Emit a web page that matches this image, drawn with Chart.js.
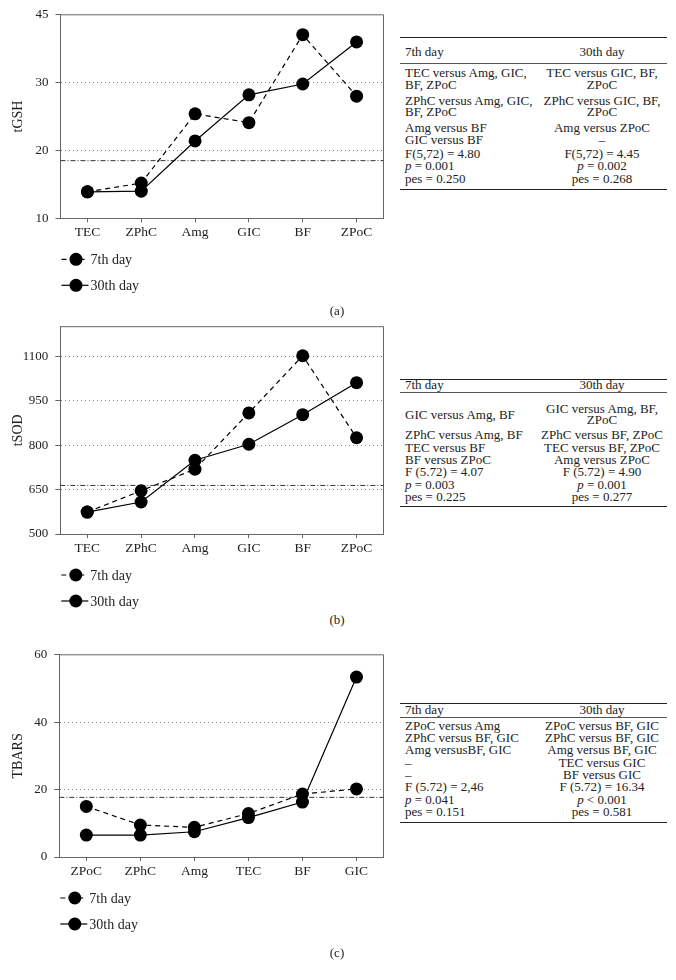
<!DOCTYPE html>
<html>
<head>
<meta charset="utf-8">
<script src="https://cdn.jsdelivr.net/npm/chart.js@4.4.1/dist/chart.umd.min.js"></script>
<style>
  body { margin: 0; background: #fff; width: 676px; height: 980px; position: relative; overflow: hidden;
         font-family: "Liberation Serif", "Times New Roman", serif; color: #222; }
  canvas { position: absolute; left: 0; }
  .cap { position: absolute; width: 40px; left: 317px; text-align: center; font-size: 13px; line-height: 14px; }
  .ln { position: absolute; left: 400px; width: 267px; height: 14px; line-height: 14px; font-size: 13px; white-space: nowrap; }
  .ln .a { position: absolute; left: 5px; }
  .ln .b { position: absolute; left: 137px; width: 130px; text-align: center; }
  .rule { position: absolute; left: 400px; width: 267px; height: 1.4px; background: #222; }
  .rule.thin { height: 1px; background: #555; }
</style>
</head>
<body>
<canvas id="chartA" width="390" height="300" style="top:0px"></canvas>
<canvas id="chartB" width="390" height="300" style="top:310px"></canvas>
<canvas id="chartC" width="390" height="310" style="top:640px"></canvas>

<div class="cap" style="top:304px">(a)</div>
<div class="cap" style="top:613px">(b)</div>
<div class="cap" style="top:946px">(c)</div>

<!-- table (a) -->
<div class="rule" style="top:37px"></div>
<div class="ln" style="top:45px"><span class="a">7th day</span><span class="b">30th day</span></div>
<div class="rule thin" style="top:63px"></div>
<div class="ln" style="top:66px"><span class="a">TEC versus Amg, GIC,</span><span class="b">TEC versus GIC, BF,</span></div>
<div class="ln" style="top:78px"><span class="a">BF, ZPoC</span><span class="b">ZPoC</span></div>
<div class="ln" style="top:94px"><span class="a">ZPhC versus Amg, GIC,</span><span class="b">ZPhC versus GIC, BF,</span></div>
<div class="ln" style="top:105px"><span class="a">BF, ZPoC</span><span class="b">ZPoC</span></div>
<div class="ln" style="top:121px"><span class="a">Amg versus BF</span><span class="b">Amg versus ZPoC</span></div>
<div class="ln" style="top:133px"><span class="a">GIC versus BF</span><span class="b">–</span></div>
<div class="ln" style="top:147px"><span class="a">F(5,72) = 4.80</span><span class="b">F(5,72) = 4.45</span></div>
<div class="ln" style="top:159px"><span class="a"><i>p</i> = 0.001</span><span class="b"><i>p</i> = 0.002</span></div>
<div class="ln" style="top:172px"><span class="a">pes = 0.250</span><span class="b">pes = 0.268</span></div>
<div class="rule" style="top:189px"></div>

<!-- table (b) -->
<div class="rule" style="top:379px"></div>
<div class="ln" style="top:378px"><span class="a">7th day</span><span class="b">30th day</span></div>
<div class="rule thin" style="top:392px"></div>
<div class="ln" style="top:402px"><span class="b">GIC versus Amg, BF,</span></div>
<div class="ln" style="top:408px"><span class="a">GIC versus Amg, BF</span></div>
<div class="ln" style="top:413px"><span class="b">ZPoC</span></div>
<div class="ln" style="top:428px"><span class="a">ZPhC versus Amg, BF</span><span class="b">ZPhC versus BF, ZPoC</span></div>
<div class="ln" style="top:441px"><span class="a">TEC versus BF</span><span class="b">TEC versus BF, ZPoC</span></div>
<div class="ln" style="top:453px"><span class="a">BF versus ZPoC</span><span class="b">Amg versus ZPoC</span></div>
<div class="ln" style="top:465px"><span class="a">F (5.72) = 4.07</span><span class="b">F (5.72) = 4.90</span></div>
<div class="ln" style="top:478px"><span class="a"><i>p</i> = 0.003</span><span class="b"><i>p</i> = 0.001</span></div>
<div class="ln" style="top:490px"><span class="a">pes = 0.225</span><span class="b">pes = 0.277</span></div>
<div class="rule" style="top:506px"></div>

<!-- table (c) -->
<div class="rule" style="top:703px"></div>
<div class="ln" style="top:703px"><span class="a">7th day</span><span class="b">30th day</span></div>
<div class="rule thin" style="top:717px"></div>
<div class="ln" style="top:719px"><span class="a">ZPoC versus Amg</span><span class="b">ZPoC versus BF, GIC</span></div>
<div class="ln" style="top:731px"><span class="a">ZPhC versus BF, GIC</span><span class="b">ZPhC versus BF, GIC</span></div>
<div class="ln" style="top:743px"><span class="a">Amg versusBF, GIC</span><span class="b">Amg versus BF, GIC</span></div>
<div class="ln" style="top:756px"><span class="a">–</span><span class="b">TEC versus GIC</span></div>
<div class="ln" style="top:768px"><span class="a">–</span><span class="b">BF versus GIC</span></div>
<div class="ln" style="top:780px"><span class="a">F (5.72) = 2,46</span><span class="b">F (5.72) = 16.34</span></div>
<div class="ln" style="top:793px"><span class="a"><i>p</i> = 0.041</span><span class="b"><i>p</i> &lt; 0.001</span></div>
<div class="ln" style="top:805px"><span class="a">pes = 0.151</span><span class="b">pes = 0.581</span></div>
<div class="rule" style="top:822px"></div>

<script>
// (a) tGSH
const groupsA = ["TEC", "ZPhC", "Amg", "GIC", "BF", "ZPoC"];
const tgsh7 = [13.9, 15.2, 25.4, 24.1, 40.6, 28.0];
const tgsh30 = [13.9, 14.0, 21.4, 28.2, 29.8, 39.0];
const tgshTicks = [10, 20, 30, 45];
const tgshRef = 18.5;

// (b) tSOD
const groupsB = ["TEC", "ZPhC", "Amg", "GIC", "BF", "ZPoC"];
const tsod7 = [574, 646, 719, 909, 1102, 825];
const tsod30 = [574, 608, 749, 803, 903, 1011];
const tsodTicks = [500, 650, 800, 950, 1100];
const tsodRef = 664;

// (c) TBARS
const groupsC = ["ZPoC", "ZPhC", "Amg", "TEC", "BF", "GIC"];
const tbars7 = [15.0, 9.5, 8.8, 12.9, 18.7, 20.2];
const tbars30 = [6.5, 6.5, 7.5, 11.7, 16.3, 53.4];
const tbarsTicks = [0, 20, 40, 60];
const tbarsRef = 17.7;

const serif = '"Liberation Serif", "Times New Roman", serif';

// the tGSH axis puts its ticks at equal distances, whatever their values
function stepDecimal(stops, v) {
  const n = stops.length - 1;
  for (let i = 0; i < n; i++) {
    if (v <= stops[i + 1] || i === n - 1) {
      return (i + (v - stops[i]) / (stops[i + 1] - stops[i])) / n;
    }
  }
}

class StepScale extends Chart.LinearScale {
  getPixelForValue(value) {
    if (value === null || value === undefined || isNaN(value)) return NaN;
    return this.getPixelForDecimal(stepDecimal(this.options.stops, value));
  }
  getValueForPixel(pixel) {
    const stops = this.options.stops;
    const n = stops.length - 1;
    const d = this.getDecimalForPixel(pixel) * n;
    const i = Math.max(0, Math.min(n - 1, Math.floor(d)));
    return stops[i] + (d - i) * (stops[i + 1] - stops[i]);
  }
}
StepScale.id = "stepped";
Chart.register(StepScale);

// top and right sides of the box
const frame = {
  id: "frame",
  beforeDatasetsDraw(chart) {
    const { ctx, chartArea: a } = chart;
    ctx.save();
    ctx.strokeStyle = "#666";
    ctx.lineWidth = 1;
    ctx.beginPath();
    ctx.moveTo(a.left, a.top);
    ctx.lineTo(a.right, a.top);
    ctx.lineTo(a.right, a.bottom);
    ctx.stroke();
    ctx.restore();
  }
};

// dash-dot reference line
const refLine = {
  id: "refLine",
  beforeDatasetsDraw(chart, args, opts) {
    const { ctx, chartArea: a } = chart;
    const y = chart.scales.y.getPixelForValue(opts.value);
    ctx.save();
    ctx.strokeStyle = "#333";
    ctx.lineWidth = 1;
    ctx.setLineDash([5, 2, 1, 2]);
    ctx.beginPath();
    ctx.moveTo(a.left, y);
    ctx.lineTo(a.right, y);
    ctx.stroke();
    ctx.restore();
  }
};

// legend below the axis: line + dot + label, one per row
const lineLegend = {
  id: "lineLegend",
  afterDraw(chart) {
    const { ctx, chartArea: a } = chart;
    chart.data.datasets.forEach((ds, i) => {
      const y = a.bottom + 41 + i * 26;
      const x = a.left + 1;
      ctx.save();
      ctx.strokeStyle = ds.borderColor;
      ctx.lineWidth = ds.borderWidth;
      ctx.setLineDash(ds.borderDash || []);
      ctx.beginPath();
      ctx.moveTo(x, y);
      ctx.lineTo(x + 27, y);
      ctx.stroke();
      ctx.setLineDash([]);
      ctx.fillStyle = ds.pointBackgroundColor;
      ctx.beginPath();
      ctx.arc(x + 14.5, y, ds.pointRadius, 0, Math.PI * 2);
      ctx.fill();
      ctx.fillStyle = "#222";
      ctx.font = "14px " + serif;
      ctx.textBaseline = "middle";
      ctx.fillText(ds.label, x + 29, y + 1);
      ctx.restore();
    });
  }
};

function series(label, data, dash) {
  return {
    label: label,
    data: data,
    borderColor: "#000",
    borderWidth: 1.2,
    borderDash: dash,
    pointRadius: 6.5,
    pointBackgroundColor: "#000",
    pointBorderWidth: 0,
    tension: 0
  };
}

function makeChart(id, cfg) {
  return new Chart(document.getElementById(id), {
    type: "line",
    data: {
      labels: cfg.labels,
      datasets: [series("7th day", cfg.d7, [5, 4]), series("30th day", cfg.d30, [])]
    },
    options: {
      responsive: false,
      animation: false,
      events: [],
      layout: { padding: cfg.pad },
      plugins: {
        legend: { display: false },
        tooltip: { enabled: false },
        refLine: { value: cfg.ref }
      },
      scales: {
        x: {
          type: "category",
          offset: true,
          grid: { drawOnChartArea: false, drawTicks: true, tickLength: 4, tickColor: "#666" },
          border: { color: "#666", width: 1 },
          ticks: { color: "#222", font: { family: serif, size: 13.5 }, padding: 2, maxRotation: 0, autoSkip: false },
          afterFit: s => { s.height = 30; }
        },
        y: {
          type: cfg.yType,
          stops: cfg.ticks,
          min: cfg.min,
          max: cfg.max,
          afterBuildTicks: s => { s.ticks = cfg.ticks.map(v => ({ value: v })); },
          afterFit: s => { s.width = cfg.axisW; },
          title: { display: true, text: cfg.title, color: "#222", font: { family: serif, size: 14 }, padding: { top: 10, bottom: 0 } },
          ticks: { color: "#222", font: { family: serif, size: 13 }, padding: 7, callback: v => String(v) },
          grid: {
            color: c => (c.tick && c.tick.value !== cfg.min && c.tick.value !== cfg.max) ? "#8a8a8a" : "rgba(0,0,0,0)",
            lineWidth: 1,
            tickLength: 5,
            tickColor: "#666"
          },
          border: { color: "#666", width: 1, dash: [1, 3] }
        }
      }
    },
    plugins: [frame, refLine, lineLegend]
  });
}

makeChart("chartA", {
  labels: groupsA, d7: tgsh7, d30: tgsh30, ticks: tgshTicks, ref: tgshRef,
  yType: "stepped", min: 10, max: 45, title: "tGSH", axisW: 60.5,
  pad: { left: 0, right: 4.3, top: 12, bottom: 51.7 }
});

makeChart("chartB", {
  labels: groupsB, d7: tsod7, d30: tsod30, ticks: tsodTicks, ref: tsodRef,
  yType: "linear", min: 500, max: 1200, title: "tSOD", axisW: 60.3,
  pad: { left: 0, right: 4.3, top: 16.7, bottom: 46 }
});

makeChart("chartC", {
  labels: groupsC, d7: tbars7, d30: tbars30, ticks: tbarsTicks, ref: tbarsRef,
  yType: "linear", min: 0, max: 60, title: "TBARS", axisW: 59.3,
  pad: { left: 0, right: 4.3, top: 10.7, bottom: 63 }
});
</script>
</body>
</html>
